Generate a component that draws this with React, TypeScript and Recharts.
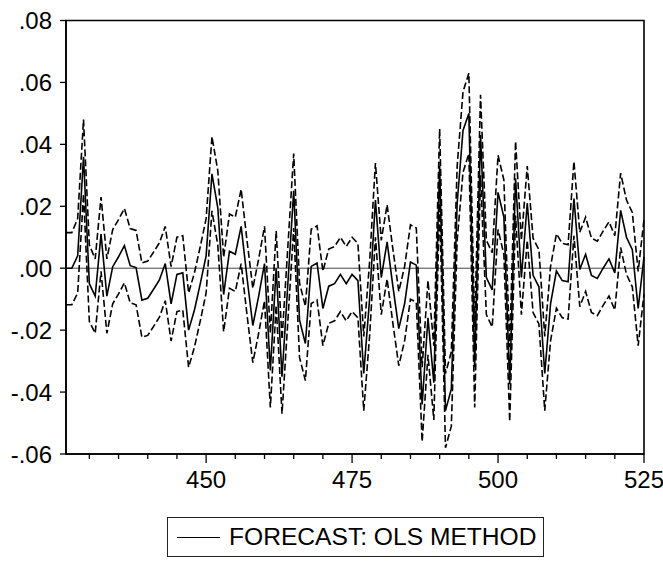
import React from "react";
import { Line, LineChart, ReferenceArea, ReferenceLine, XAxis, YAxis } from "recharts";

const periods = [
  426, 427, 428, 429, 430, 431, 432, 433, 434, 435, 436, 437, 438, 439, 440, 441, 442, 443, 444, 445,
  446, 447, 448, 449, 450, 451, 452, 453, 454, 455, 456, 457, 458, 459, 460, 461, 462, 463, 464, 465,
  466, 467, 468, 469, 470, 471, 472, 473, 474, 475, 476, 477, 478, 479, 480, 481, 482, 483, 484, 485,
  486, 487, 488, 489, 490, 491, 492, 493, 494, 495, 496, 497, 498, 499, 500, 501, 502, 503, 504, 505,
  506, 507, 508, 509, 510, 511, 512, 513, 514, 515, 516, 517, 518, 519, 520, 521, 522, 523, 524, 525,
];

const forecast = [
  0.0, 0.0, 0.004, 0.036, -0.005, -0.009, 0.011, -0.009, 0.0005, 0.0037, 0.0073, 0.0008, 0.0002, -0.0103, -0.0097, -0.0068, -0.0038, 0.0015, -0.0115, -0.002,
  -0.0015, -0.02, -0.0135, -0.005, 0.004, 0.0305, 0.0195, -0.0085, 0.0055, 0.0045, 0.0135, -0.003, -0.0185, -0.009, 0.0015, -0.033, 0.0, -0.035, -0.005, 0.025,
  -0.0168, -0.0243, 0.0006, 0.0017, -0.013, -0.0058, -0.005, -0.002, -0.005, -0.002, -0.004, -0.034, -0.01, 0.022, -0.003, 0.0085, -0.006, -0.0195, -0.0114, 0.002,
  0.001, -0.044, -0.016, -0.037, 0.033, -0.046, -0.039, 0.021, 0.0445, 0.05, -0.032, 0.043, -0.003, -0.007, 0.0245, 0.0165, -0.0375, 0.029, -0.003, 0.021,
  -0.0023, -0.006, -0.034, -0.0114, -0.0009, -0.004, -0.0044, 0.0225, -0.0004, 0.0045, -0.0023, -0.0033, 0.0, 0.003, -0.0015, 0.0187, 0.01, 0.006, -0.013, 0.0037,
];

const upper = [
  0.0115, 0.0115, 0.016, 0.048, 0.0075, 0.003, 0.023, 0.003, 0.0125, 0.0157, 0.0193, 0.0128, 0.0122, 0.0017, 0.0023, 0.0052, 0.0082, 0.0135, 0.0005, 0.01,
  0.0105, -0.008, -0.0015, 0.007, 0.016, 0.0425, 0.0315, 0.0035, 0.0175, 0.0165, 0.0255, 0.009, -0.0065, 0.003, 0.0135, -0.021, 0.012, -0.023, 0.007, 0.037,
  -0.0048, -0.0123, 0.0126, 0.0137, -0.001, 0.0062, 0.007, 0.01, 0.007, 0.01, 0.008, -0.022, 0.002, 0.034, 0.009, 0.0205, 0.006, -0.0075, 0.0006, 0.014,
  0.013, -0.032, -0.004, -0.025, 0.045, -0.034, -0.027, 0.033, 0.057, 0.063, -0.019, 0.056, 0.009, 0.005, 0.0365, 0.0285, -0.0255, 0.041, 0.009, 0.033,
  0.0097, 0.006, -0.022, 0.0006, 0.0111, 0.008, 0.0076, 0.0345, 0.0116, 0.0165, 0.0097, 0.0087, 0.012, 0.015, 0.0105, 0.0307, 0.022, 0.018, -0.001, 0.0157,
];

const lower = [
  -0.0118, -0.0118, -0.008, 0.024, -0.0172, -0.021, -0.001, -0.021, -0.0115, -0.0083, -0.0047, -0.0112, -0.0118, -0.0223, -0.0217, -0.0188, -0.0158, -0.0105, -0.0235, -0.014,
  -0.0135, -0.032, -0.0255, -0.017, -0.008, 0.0185, 0.0075, -0.0205, -0.0065, -0.0075, 0.0015, -0.015, -0.0305, -0.021, -0.0105, -0.045, -0.012, -0.047, -0.017, 0.013,
  -0.0288, -0.0363, -0.0114, -0.0103, -0.025, -0.0178, -0.017, -0.014, -0.017, -0.014, -0.016, -0.046, -0.022, 0.01, -0.015, -0.0035, -0.018, -0.0315, -0.0234, -0.01,
  -0.011, -0.056, -0.028, -0.049, 0.021, -0.058, -0.051, 0.009, 0.031, 0.037, -0.045, 0.03, -0.015, -0.019, 0.0125, 0.0045, -0.0495, 0.017, -0.015, 0.009,
  -0.0143, -0.018, -0.046, -0.0234, -0.0129, -0.016, -0.0164, 0.0105, -0.0124, -0.0075, -0.0143, -0.0153, -0.012, -0.009, -0.0135, 0.0067, -0.002, -0.006, -0.025, -0.0083,
];

const xTicks = [430, 435, 440, 445, 450, 455, 460, 465, 470, 475, 480, 485, 490, 495, 500, 505, 510, 515, 520, 525];
const xLabels = [450, 475, 500, 525];
const yTicks = [-0.06, -0.04, -0.02, 0, 0.02, 0.04, 0.06, 0.08];

const data = periods.map((t, i) => ({ t, forecast: forecast[i], upper: upper[i], lower: lower[i] }));

const font = '"Liberation Sans", Arial, sans-serif';

const fmtY = (v: number) => v.toFixed(2).replace("0.", ".");

function XTick(props: any) {
  const { x, y, payload } = props;
  const major = xLabels.includes(payload.value);
  return (
    <g>
      <line x1={x} y1={y} x2={x} y2={y + (major ? 9 : 5)} stroke="#000" strokeWidth={1.3} />
      {major && (
        <text x={x} y={y + 34} textAnchor="middle" fontSize={24} fill="#000" fontFamily={font}>
          {payload.value}
        </text>
      )}
    </g>
  );
}

export default function App() {
  return (
    <div style={{ position: "absolute", left: 0, top: 0, width: 663, height: 563, background: "#fff" }}>
      <LineChart width={663} height={563} data={data} margin={{ top: 20.5, right: 19, left: 0, bottom: 0 }}>
        <XAxis
          dataKey="t"
          type="number"
          domain={[426, 525]}
          ticks={xTicks}
          interval={0}
          height={109}
          tickSize={0}
          tickMargin={0}
          tick={<XTick />}
          axisLine={{ stroke: "#000", strokeWidth: 1.6 }}
        />
        <YAxis
          type="number"
          domain={[-0.06, 0.08]}
          ticks={yTicks}
          interval={0}
          width={66}
          tickSize={6}
          tickMargin={8}
          tickFormatter={fmtY}
          tick={{ fontSize: 24, fill: "#000", fontFamily: font }}
          tickLine={{ stroke: "#000", strokeWidth: 1.3 }}
          axisLine={{ stroke: "#000", strokeWidth: 1.6 }}
        />
        <ReferenceArea x1={426} x2={525} y1={-0.06} y2={0.08} fill="none" stroke="#000" strokeWidth={1.6} fillOpacity={0} />
        <ReferenceLine y={0} stroke="#444" strokeWidth={1} />
        <Line type="linear" dataKey="upper" stroke="#000" strokeWidth={1.6} strokeDasharray="7 3" dot={false} isAnimationActive={false} />
        <Line type="linear" dataKey="lower" stroke="#000" strokeWidth={1.6} strokeDasharray="7 3" dot={false} isAnimationActive={false} />
        <Line type="linear" dataKey="forecast" stroke="#000" strokeWidth={1.6} dot={false} isAnimationActive={false} />
      </LineChart>
      <div
        style={{
          position: "absolute",
          left: 167,
          top: 517,
          width: 377,
          height: 40,
          border: "1px solid #222",
          boxSizing: "border-box",
          display: "flex",
          alignItems: "center",
          fontFamily: font,
          fontSize: 24.6,
          color: "#000",
        }}
      >
        <div style={{ width: 43, height: 0, borderTop: "1.5px solid #000", marginLeft: 9, marginRight: 9 }} />
        <span style={{ whiteSpace: "nowrap" }}>FORECAST: OLS METHOD</span>
      </div>
    </div>
  );
}
